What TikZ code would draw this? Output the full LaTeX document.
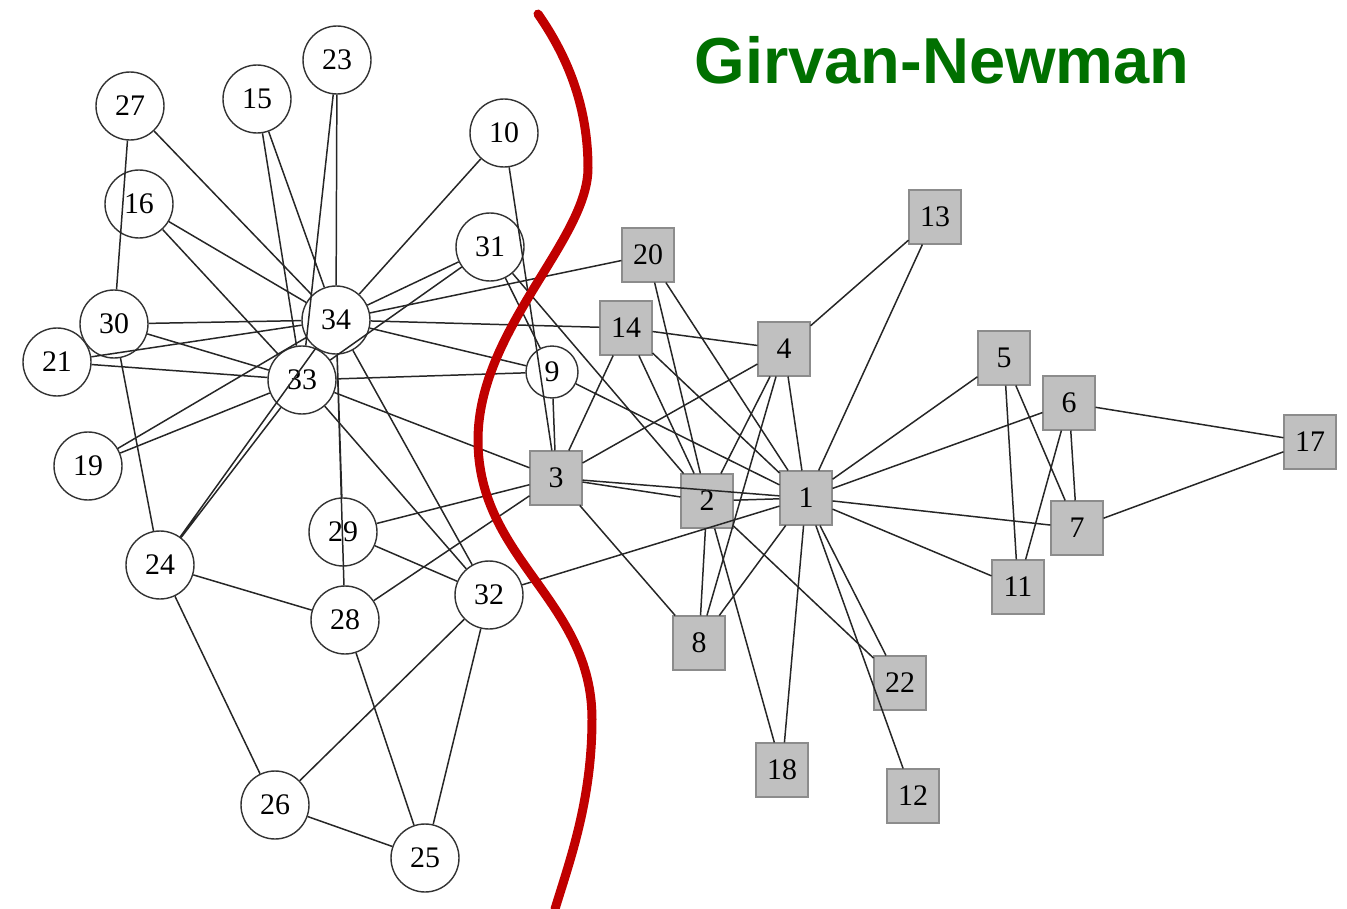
\documentclass[tikz,border=0pt]{standalone}
\usepackage{fontspec}
\setmainfont{Liberation Serif}
\newfontfamily\titlefont{Liberation Sans}
\usetikzlibrary{calc}

\definecolor{cutred}{RGB}{192,0,0}
\definecolor{titlegreen}{RGB}{0,112,0}
\definecolor{boxgray}{RGB}{192,192,192}

\begin{document}
\begin{tikzpicture}[
  x=0.02cm, y=-0.02cm,
  font=\fontsize{17}{20}\selectfont,
  member/.style={circle, draw=black!80, line width=0.8pt, minimum size=1.36cm, inner sep=0pt},
  smallmember/.style={member, minimum size=1.04cm},
  rival/.style={rectangle, draw=black!45, fill=boxgray, line width=0.6pt,
    minimum width=1.04cm, minimum height=1.08cm, inner sep=0pt},
  edge/.style={draw=black!85, line width=0.85pt},
  cut/.style={draw=cutred, line width=0.18cm, line cap=round},
  heading/.style={font=\titlefont\bfseries\fontsize{37}{42}\selectfont, text=titlegreen}
]
\useasboundingbox (0,0) rectangle (1347,909);

% left group, circles
\node[member] (v27) at (130, 106) {27};
\node[member] (v15) at (257, 99)  {15};
\node[member] (v23) at (337, 60)  {23};
\node[member] (v10) at (504, 133) {10};
\node[member] (v16) at (139, 204) {16};
\node[member] (v31) at (490, 247) {31};
\node[member] (v30) at (114, 324) {30};
\node[member] (v34) at (336, 320) {34};
\node[member] (v21) at (57, 362)  {21};
\node[member] (v33) at (302, 380) {33};
\node[smallmember] (v9) at (552, 372) {9};
\node[member] (v19) at (88, 466)  {19};
\node[member] (v29) at (343, 532) {29};
\node[member] (v24) at (160, 565) {24};
\node[member] (v28) at (345, 620) {28};
\node[member] (v32) at (489, 595) {32};
\node[member] (v26) at (275, 805) {26};
\node[member] (v25) at (425, 858) {25};

% right group, squares
\node[rival] (v3)  at (556, 478)  {3};
\node[rival] (v20) at (648, 255)  {20};
\node[rival] (v14) at (626, 328)  {14};
\node[rival] (v4)  at (784, 349)  {4};
\node[rival] (v13) at (935, 217)  {13};
\node[rival] (v5)  at (1004, 358) {5};
\node[rival] (v6)  at (1069, 403) {6};
\node[rival] (v17) at (1310, 442) {17};
\node[rival] (v2)  at (707, 501)  {2};
\node[rival] (v1)  at (806, 498)  {1};
\node[rival] (v7)  at (1077, 528) {7};
\node[rival] (v11) at (1018, 587) {11};
\node[rival] (v8)  at (699, 643)  {8};
\node[rival] (v22) at (900, 683)  {22};
\node[rival] (v18) at (782, 770)  {18};
\node[rival] (v12) at (913, 796)  {12};

% ties
\draw[edge] (v1) -- (v2) (v1) -- (v3) (v1) -- (v4) (v1) -- (v5) (v1) -- (v6) (v1) -- (v7)
  (v1) -- (v8) (v1) -- (v9) (v1) -- (v11) (v1) -- (v12) (v1) -- (v13) (v1) -- (v14)
  (v1) -- (v18) (v1) -- (v20) (v1) -- (v22) (v1) -- (v32);
\draw[edge] (v2) -- (v3) (v2) -- (v4) (v2) -- (v8) (v2) -- (v14) (v2) -- (v18) (v2) -- (v20)
  (v2) -- (v22) (v2) -- (v31);
\draw[edge] (v3) -- (v4) (v3) -- (v8) (v3) -- (v9) (v3) -- (v10) (v3) -- (v14) (v3) -- (v28)
  (v3) -- (v29) (v3) -- (v33);
\draw[edge] (v4) -- (v8) (v4) -- (v13) (v4) -- (v14);
\draw[edge] (v5) -- (v7) (v5) -- (v11) (v6) -- (v7) (v6) -- (v11) (v6) -- (v17) (v7) -- (v17);
\draw[edge] (v9) -- (v31) (v9) -- (v33) (v9) -- (v34) (v10) -- (v34) (v14) -- (v34) (v20) -- (v34);
\draw[edge] (v15) -- (v33) (v15) -- (v34) (v16) -- (v33) (v16) -- (v34) (v19) -- (v33) (v19) -- (v34)
  (v21) -- (v33) (v21) -- (v34) (v23) -- (v33) (v23) -- (v34);
\draw[edge] (v24) -- (v26) (v24) -- (v28) (v24) -- (v30) (v24) -- (v33) (v24) -- (v34);
\draw[edge] (v25) -- (v26) (v25) -- (v28) (v25) -- (v32) (v26) -- (v32);
\draw[edge] (v27) -- (v30) (v27) -- (v34) (v28) -- (v34) (v29) -- (v32) (v29) -- (v34);
\draw[edge] (v30) -- (v33) (v30) -- (v34) (v31) -- (v33) (v31) -- (v34) (v32) -- (v33) (v32) -- (v34)
  (v33) -- (v34);

% the split
\draw[cut] (538, 14) .. controls (570, 60) and (588, 110) .. (588, 168)
  .. controls (588, 240) and (478, 330) .. (478, 440)
  .. controls (478, 560) and (592, 600) .. (592, 719)
  .. controls (592, 800) and (570, 860) .. (555, 909);

\node[heading] (title) at (942, 60) {Girvan-Newman};

\end{tikzpicture}
\end{document}
